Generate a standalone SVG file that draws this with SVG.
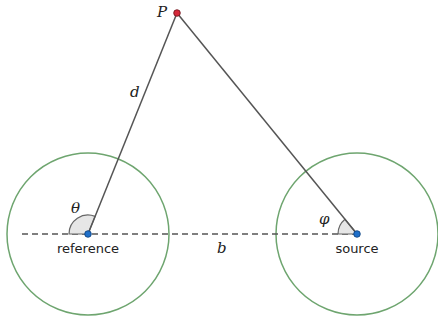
<svg xmlns="http://www.w3.org/2000/svg" width="438" height="320" viewBox="0 0 438 320">
<style>
.circ{fill:none;stroke:#6ea56f;stroke-width:1.5}
.edge{stroke:#555;stroke-width:1.5;fill:none}
.dash{stroke:#555;stroke-width:1.5;stroke-dasharray:6 4;fill:none}
.wedge{fill:#e6e6e6;stroke:#666;stroke-width:1.2}
.dot{fill:#1f6fc9;stroke:#0d3f7a;stroke-width:0.8}
.pdot{fill:#d4283a;stroke:#6a1018;stroke-width:0.8}
.math{font-family:"DejaVu Serif","Liberation Serif",serif;font-style:italic;font-size:15px;fill:#222}
.lbl{font-family:"DejaVu Sans","Liberation Sans",sans-serif;font-size:13px;fill:#222;text-anchor:middle}
</style>
<rect width="438" height="320" fill="#fff"/>
<g id="reference-circle"><circle class="circ" cx="88" cy="234" r="81"/></g>
<g id="source-circle"><circle class="circ" cx="357" cy="234" r="81"/></g>
<g id="connectors">
<line class="dash" x1="22" y1="234" x2="357" y2="234"/>
<path class="wedge" d="M88,234 L69,234 A19,19 0 0 1 95.1,216.4 Z"/>
<path class="wedge" d="M357,234 L338,234 A19,19 0 0 1 345,219.3 Z"/>
<line class="edge" x1="88" y1="234" x2="177" y2="13"/>
<line class="edge" x1="357" y1="234" x2="177" y2="13"/>
<text class="math" x="130" y="97">d</text>
<text class="math" x="217" y="253">b</text>
<text class="math" x="71" y="213">θ</text>
<text class="math" x="319" y="224">φ</text>
</g>
<g id="reference"><circle class="dot" cx="88" cy="234" r="3.3"/><text class="lbl" x="88" y="253">reference</text></g>
<g id="source"><circle class="dot" cx="357" cy="234" r="3.3"/><text class="lbl" x="357" y="253">source</text></g>
<g id="P"><circle class="pdot" cx="177" cy="13" r="3.3"/><text class="math" x="157" y="17">P</text></g>
</svg>
